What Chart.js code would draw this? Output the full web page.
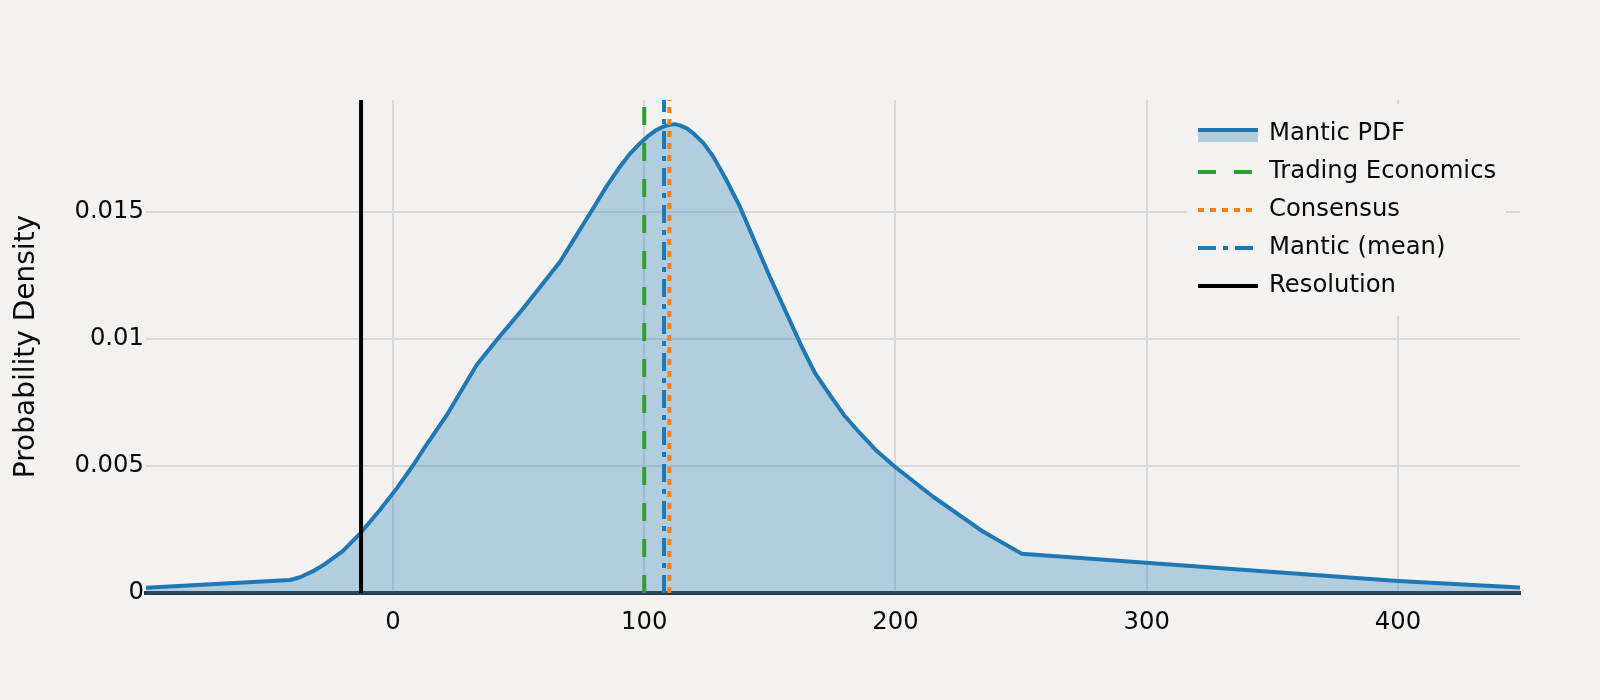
<!DOCTYPE html>
<html>
<head>
<meta charset="utf-8">
<script src="https://cdn.jsdelivr.net/npm/chart.js@4.4.0/dist/chart.umd.min.js"></script>
<style>
  html, body { margin: 0; padding: 0; background: #f3f2f0; }
  canvas { display: block; }
</style>
</head>
<body>
<canvas id="pdfChart" width="1600" height="700"></canvas>
<script>
// values
var pdfX = [-98.3, -41, -37, -32, -27.7, -20, -13, -5.2, 1.5, 8.1, 12.1, 21.4, 33.3, 41.3, 51.9, 66.5, 73, 79.7, 85, 90.3, 94.5, 98.3, 101.8, 104.9, 107.8, 110.2, 112.2, 114.2, 117, 119.5, 123.5, 127.5, 132.5, 138.1, 150, 162.7, 168, 173.9, 179.5, 185.9, 192.5, 199.8, 215, 235, 250.2, 400, 448.6];
var pdfY = [0.00021, 0.00051, 0.00062, 0.00085, 0.0011, 0.00165, 0.00235, 0.00327, 0.00412, 0.00504, 0.00565, 0.0070, 0.00898, 0.00996, 0.01121, 0.01304, 0.01408, 0.01515, 0.01601, 0.01678, 0.01731, 0.0177, 0.01801, 0.01823, 0.01837, 0.01843, 0.01846, 0.01841, 0.01829, 0.0181, 0.01772, 0.01718, 0.01630, 0.01521, 0.01245, 0.0097, 0.00866, 0.0078, 0.00701, 0.00629, 0.00560, 0.00497, 0.00379, 0.00241, 0.00155, 0.00047, 0.00022];

var markerNames = ["Trading Economics", "Consensus", "Mantic (mean)", "Resolution"];
var markerX = [100, 110, 107.9, -12.7];
var markerColors = ['#2ca02c', '#ff7f0e', '#1f77b4', '#000000'];
var markerDash = [[18, 18], [6, 6], [18, 7, 5, 7], []];

var xTicks = [0, 100, 200, 300, 400];
var yTicks = [0, 0.005, 0.01, 0.015];
var X_MIN = -98.3, X_MAX = 448.6, Y_MAX = 0.01941;

var FONT = 'DejaVu Sans';
var BG = '#f3f2f0';
var FILL = 'rgba(31,119,180,0.3)';

var datasets = [];
for (var i = 0; i < markerX.length; i++) {
    datasets.push({
        label: markerNames[i],
        data: [{x: markerX[i], y: 0}, {x: markerX[i], y: Y_MAX}],
        borderColor: markerColors[i],
        borderWidth: 4,
        borderDash: markerDash[i],
        pointRadius: 0,
        fill: false,
        order: 0
    });
}
datasets.push({
    label: "Mantic PDF",
    data: pdfX.map(function(x, i) { return {x: x, y: pdfY[i]}; }),
    borderColor: '#1f77b4',
    backgroundColor: FILL,
    borderWidth: 4,
    pointRadius: 0,
    tension: 0,
    borderJoinStyle: 'round',
    fill: 'origin',
    order: 1
});

// legend drawn inside the plot, top right, like the original
var boxLegend = {
    id: 'boxLegend',
    afterDraw: function(chart) {
        var c = chart.ctx;
        c.save();
        c.fillStyle = BG;
        c.fillRect(1187, 104, 319, 212);
        var x0 = 1198, x1 = 1258, tx = 1269;
        var rows = [134, 172, 210, 248, 286];
        // Mantic PDF sample: line over a filled band
        c.fillStyle = FILL;
        c.fillRect(x0, 132, x1 - x0, 10);
        c.strokeStyle = '#1f77b4';
        c.lineWidth = 4;
        c.beginPath(); c.moveTo(x0, 130); c.lineTo(x1, 130); c.stroke();
        for (var i = 0; i < markerNames.length; i++) {
            c.strokeStyle = markerColors[i];
            c.lineWidth = 4;
            c.setLineDash(markerDash[i]);
            c.beginPath(); c.moveTo(x0, rows[i + 1]); c.lineTo(x1, rows[i + 1]); c.stroke();
        }
        c.setLineDash([]);
        c.fillStyle = '#0a0a0a';
        c.font = '24.3px "' + FONT + '"';
        c.textBaseline = 'middle';
        c.textAlign = 'left';
        var names = ["Mantic PDF"].concat(markerNames);
        for (var j = 0; j < names.length; j++) c.fillText(names[j], tx, rows[j]);
        c.restore();
    }
};

var bgPlugin = {
    id: 'bg',
    beforeDraw: function(chart) {
        var c = chart.ctx;
        c.save(); c.fillStyle = BG; c.fillRect(0, 0, chart.width, chart.height); c.restore();
    }
};

var ctx = document.getElementById('pdfChart').getContext('2d');
var myChart = new Chart(ctx, {
    type: 'line',
    data: { datasets: datasets },
    options: {
        responsive: false,
        animation: false,
        devicePixelRatio: 1,
        layout: { padding: { left: 0, right: 80, top: 100, bottom: 0 } },
        plugins: { legend: { display: false }, tooltip: { enabled: false } },
        scales: {
            x: {
                type: 'linear',
                min: X_MIN, max: X_MAX,
                afterBuildTicks: function(s) { s.ticks = xTicks.map(function(v) { return {value: v}; }); },
                afterFit: function(s) { s.height = 107; },
                grid: { color: '#d8d8d8', lineWidth: 2, drawTicks: false },
                border: { display: true, color: '#2a3a4a', width: 4 },
                ticks: { color: '#0a0a0a', font: { family: FONT, size: 24.3 }, padding: 15, maxRotation: 0 }
            },
            y: {
                type: 'linear',
                min: 0, max: Y_MAX,
                afterBuildTicks: function(s) { s.ticks = yTicks.map(function(v) { return {value: v}; }); },
                afterFit: function(s) { s.width = 146; },
                grid: {
                    color: function(c) { return c.tick && c.tick.value === 0 ? 'rgba(0,0,0,0)' : '#d8d8d8'; },
                    lineWidth: 2, drawTicks: false
                },
                border: { display: false },
                ticks: {
                    color: '#0a0a0a', font: { family: FONT, size: 24.3 }, padding: 2,
                    callback: function(v) { return String(+v.toFixed(3)); }
                },
                title: {
                    display: true, text: 'Probability Density', color: '#0a0a0a',
                    font: { family: FONT, size: 28 }, padding: { top: 10, bottom: 0 }
                }
            }
        }
    },
    plugins: [bgPlugin, boxLegend]
});
</script>
</body>
</html>
